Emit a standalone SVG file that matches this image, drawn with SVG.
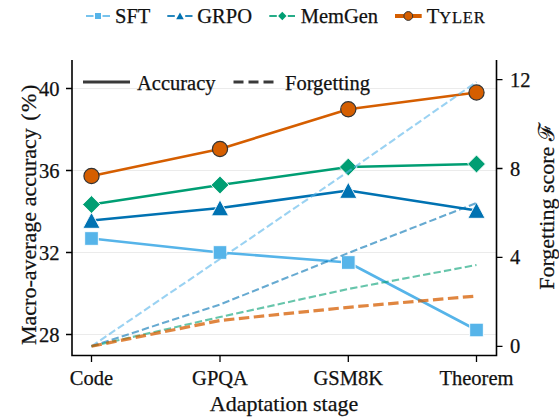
<svg xmlns="http://www.w3.org/2000/svg" xmlns:xlink="http://www.w3.org/1999/xlink" width="559" height="417" viewBox="0 0 559 417" font-family="'Liberation Serif', 'Times New Roman', Times, 'DejaVu Serif', serif">
<style>
text{font-family:'Liberation Serif','Times New Roman',Times,'DejaVu Serif',serif;fill:#111;stroke:#111;stroke-width:0.25;font-size:20.5px}
.grid{stroke:#ebebeb;stroke-width:1;fill:none}
.spine{stroke:#000;stroke-width:1.6;fill:none}
.tick{stroke:#000;stroke-width:1.3;fill:none}
.acc{fill:none;stroke-width:2.6;stroke-linejoin:round;stroke-linecap:butt}
.fg{fill:none;stroke-width:2.1;stroke-dasharray:7.4 3.2;stroke-linejoin:round}
.fgt{fill:none;stroke-width:3.2;stroke-dasharray:10.5 4.5;stroke-linejoin:round}
.sft{stroke:#56B4E9}
.grpo{stroke:#0072B2}
.mem{stroke:#009E73}
.tyl{stroke:#D55E00}
.mk{stroke:#fff;stroke-width:0.9}
.mkc{fill:#D55E00;stroke:#333;stroke-width:1.2}
.lab{font-size:22px}
</style>
<defs>
<rect id="sq" x="-6.8" y="-6.8" width="13.6" height="13.6"/>
<polygon id="tri" points="0,-8.2 -8.6,7.8 8.6,7.8"/>
<polygon id="dia" points="0,-8.9 8.9,0 0,8.9 -8.9,0"/>
<circle id="cir" r="7.6"/>
<rect id="sqs" x="-3" y="-3" width="6" height="6"/>
<polygon id="tris" points="0,-3.5 -3.8,3.2 3.8,3.2"/>
<polygon id="dias" points="0,-4.2 4.2,0 0,4.2 -4.2,0"/>
</defs>

<g id="grid">
<line class="grid" x1="72" y1="88.5" x2="496.5" y2="88.5"/>
<line class="grid" x1="72" y1="170.5" x2="496.5" y2="170.5"/>
<line class="grid" x1="72" y1="252.5" x2="496.5" y2="252.5"/>
<line class="grid" x1="72" y1="334.5" x2="496.5" y2="334.5"/>
</g>

<g id="axes">
<path class="spine" d="M72,60 V355.5 H496.5 V60"/>
<path class="tick" d="M66,88.5H72M66,170.5H72M66,252.5H72M66,334.5H72"/>
<path class="tick" d="M496.5,79.6H502.5M496.5,168.5H502.5M496.5,257.4H502.5M496.5,346.3H502.5"/>
<path class="tick" d="M91.5,355.5V362M220,355.5V362M348.3,355.5V362M476.5,355.5V362"/>
<g text-anchor="end">
<text x="59.5" y="95.5">40</text>
<text x="59.5" y="177.5">36</text>
<text x="59.5" y="259.5">32</text>
<text x="59.5" y="341.5">28</text>
</g>
<g>
<text x="510" y="86.6">12</text>
<text x="510" y="175.5">8</text>
<text x="510" y="264.4">4</text>
<text x="510" y="353.3">0</text>
</g>
<g text-anchor="middle">
<text x="91.5" y="385">Code</text>
<text x="220" y="385">GPQA</text>
<text x="348.3" y="385">GSM8K</text>
<text x="476.5" y="385">Theorem</text>
<text class="lab" x="284" y="411">Adaptation stage</text>
<text class="lab" transform="translate(36,345) rotate(-90)" text-anchor="start">Macro-average accuracy <tspan dx="2" letter-spacing="1.5">(%)</tspan></text>
<text class="lab" transform="translate(554,206.5) rotate(-90)">Forgetting score ℱ</text>
</g>
</g>

<g id="accuracy">
<g id="acc-sft">
<polyline class="acc sft" points="91.5,238.5 220,252.5 348.3,262.5 476.5,330"/>
<g fill="#56B4E9" class="mk">
<use xlink:href="#sq" x="91.5" y="238.5"/><use xlink:href="#sq" x="220" y="252.5"/><use xlink:href="#sq" x="348.3" y="262.5"/><use xlink:href="#sq" x="476.5" y="330"/>
</g>
</g>
<g id="acc-grpo">
<polyline class="acc grpo" points="91.5,220.5 220,208 348.3,190.5 476.5,210.5"/>
<g fill="#0072B2" class="mk">
<use xlink:href="#tri" x="91.5" y="220.5"/><use xlink:href="#tri" x="220" y="208"/><use xlink:href="#tri" x="348.3" y="190.5"/><use xlink:href="#tri" x="476.5" y="210.5"/>
</g>
</g>
<g id="acc-memgen">
<polyline class="acc mem" points="91.5,204.5 220,185 348.3,167 476.5,164"/>
<g fill="#009E73" class="mk">
<use xlink:href="#dia" x="91.5" y="204.5"/><use xlink:href="#dia" x="220" y="185"/><use xlink:href="#dia" x="348.3" y="167"/><use xlink:href="#dia" x="476.5" y="164"/>
</g>
</g>
<g id="acc-tyler">
<polyline class="acc tyl" stroke-width="4.2" points="91.5,176 220,149 348.3,109.3 476.5,92.5"/>
<g class="mkc">
<use xlink:href="#cir" x="91.5" y="176"/><use xlink:href="#cir" x="220" y="149"/><use xlink:href="#cir" x="348.3" y="109.3"/><use xlink:href="#cir" x="476.5" y="92.5"/>
</g>
</g>
</g>

<g id="forgetting">
<polyline id="fg-sft" class="fg sft" stroke-opacity="0.6" points="91.5,346.3 220,259 348.3,171.5 476.5,82"/>
<polyline id="fg-grpo" class="fg grpo" stroke-opacity="0.6" points="91.5,346.3 220,304.5 348.3,253 476.5,203"/>
<polyline id="fg-memgen" class="fg mem" stroke-opacity="0.6" points="91.5,346.3 220,317 348.3,289 476.5,265"/>
<polyline id="fg-tyler" class="fgt tyl" stroke-opacity="0.75" points="91.5,346.3 220,320.5 348.3,307.3 476.5,296"/>
</g>

<g id="legend-style">
<line x1="83" y1="82" x2="130" y2="82" stroke="#3a3a3a" stroke-width="3"/>
<text x="137" y="89.5">Accuracy</text>
<line x1="233.5" y1="82" x2="275.5" y2="82" stroke="#3a3a3a" stroke-width="3" stroke-dasharray="10 5"/>
<text x="285" y="89.5">Forgetting</text>
</g>

<g id="legend-methods">
<g id="leg-sft">
<path d="M86,16H93.5M102.5,16H110" stroke="#56B4E9" stroke-opacity="0.8" stroke-width="2.2"/>
<use xlink:href="#sqs" x="98" y="16" fill="#56B4E9"/>
<text x="115" y="22.7">SFT</text>
</g>
<g id="leg-grpo">
<path d="M167.3,16H174.8M185.2,16H192.5" stroke="#0072B2" stroke-opacity="0.85" stroke-width="2.2"/>
<use xlink:href="#tris" x="180" y="16" fill="#0072B2"/>
<text x="197.3" y="22.7">GRPO</text>
</g>
<g id="leg-memgen">
<path d="M269.3,16H276.8M287.8,16H295" stroke="#009E73" stroke-opacity="0.85" stroke-width="2.2"/>
<use xlink:href="#dias" x="282.3" y="16" fill="#009E73"/>
<text x="300.7" y="22.7">MemGen</text>
</g>
<g id="leg-tyler">
<line x1="395" y1="16" x2="421.7" y2="16" stroke="#D55E00" stroke-width="4"/>
<circle cx="408.3" cy="16" r="4.4" fill="#D55E00" stroke="#333" stroke-width="1"/>
<text x="426.7" y="22.7">T<tspan font-size="16.5" letter-spacing="0.8">YLER</tspan></text>
</g>
</g>
</svg>
